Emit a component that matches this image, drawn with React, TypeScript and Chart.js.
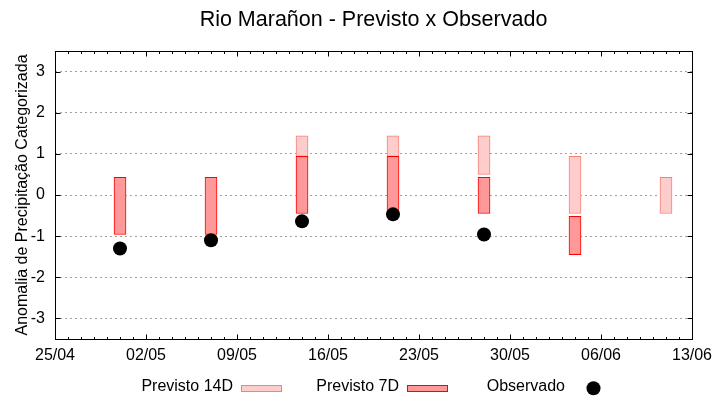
import { useEffect, useRef } from "react";
import { Chart, registerables } from "chart.js";

Chart.register(...registerables);

const chartTitle = "Rio Marañon - Previsto x Observado";
const yAxisTitle = "Anomalia de Precipitação Categorizada";

// x is "days since 25/04"
const xTickDays = [0, 7, 14, 21, 28, 35, 42, 49];
const xTickLabels = ["25/04", "02/05", "09/05", "16/05", "23/05", "30/05", "06/06", "13/06"];
const yTicks = [-3, -2, -1, 0, 1, 2, 3];

const forecastDays = [5, 12, 19, 26, 33, 40, 47];
const p14Low: (number | null)[] = [null, null, 0.94, 0.94, 0.5, -0.45, -0.45];
const p14High: (number | null)[] = [null, null, 1.44, 1.44, 1.44, 0.94, 0.43];
const p7Low: (number | null)[] = [-0.96, -0.96, -0.45, -0.45, -0.45, -1.45, null];
const p7High: (number | null)[] = [0.43, 0.43, 0.94, 0.94, 0.43, -0.52, null];

const obsDays = [5, 12, 19, 26, 33];
const obsValues = [-1.3, -1.1, -0.64, -0.47, -0.96];

const FONT = "'Liberation Sans', Arial, sans-serif";

function ranges(lo: (number | null)[], hi: (number | null)[]) {
  const out: { x: number; y: [number, number] }[] = [];
  forecastDays.forEach((d, i) => {
    const a = lo[i];
    const b = hi[i];
    if (a !== null && b !== null) out.push({ x: d, y: [a, b] });
  });
  return out;
}

const framePlugin = {
  id: "frameAndLegend",
  afterDraw(chart: any) {
    const { ctx, chartArea: a, scales } = chart;
    const x = scales.x;
    const y = scales.y;
    const L = Math.round(a.left) + 0.5;
    const R = Math.round(a.right) + 0.5;
    const T = Math.round(a.top) + 0.5;
    const B = Math.round(a.bottom) + 0.5;
    ctx.save();
    ctx.strokeStyle = "#000";
    ctx.lineWidth = 1;
    ctx.strokeRect(L, T, R - L, B - T);
    ctx.beginPath();
    for (let d = x.min; d <= x.max; d++) {
      const px = Math.round(x.getPixelForValue(d)) + 0.5;
      const len = xTickDays.includes(d) ? 5 : 2.5;
      ctx.moveTo(px, B);
      ctx.lineTo(px, B - len);
      ctx.moveTo(px, T);
      ctx.lineTo(px, T + len);
    }
    yTicks.forEach((v) => {
      const py = Math.round(y.getPixelForValue(v)) + 0.5;
      ctx.moveTo(L, py);
      ctx.lineTo(L + 5, py);
      ctx.moveTo(R, py);
      ctx.lineTo(R - 5, py);
    });
    ctx.stroke();

    // title
    ctx.fillStyle = "#000";
    ctx.font = `21.5px ${FONT}`;
    ctx.textAlign = "center";
    ctx.textBaseline = "middle";
    ctx.fillText(chartTitle, (a.left + a.right) / 2, 20);

    // legend
    ctx.font = `16px ${FONT}`;
    ctx.textAlign = "right";
    const textY = 386.5;
    const boxY = 385;
    const starts = [241, 407, 573];
    chart.data.datasets.forEach((ds: any, i: number) => {
      const sx = starts[i];
      ctx.fillStyle = "#000";
      ctx.fillText(ds.label, sx - 8, textY);
      if (ds.type === "bar") {
        ctx.fillStyle = ds.backgroundColor;
        ctx.fillRect(sx, boxY, 41, 7);
        ctx.strokeStyle = ds.borderColor;
        ctx.strokeRect(sx + 0.5, boxY + 0.5, 40, 6);
      } else {
        ctx.fillStyle = "#000";
        ctx.beginPath();
        ctx.arc(sx + 20.5, 388.3, 7, 0, Math.PI * 2);
        ctx.fill();
      }
    });
    ctx.restore();
  },
};

export default function App() {
  const ref = useRef<HTMLCanvasElement>(null);
  useEffect(() => {
    document.body.style.margin = "0";
    const chart = new Chart(ref.current!, {
      type: "bar",
      data: {
        datasets: [
          {
            type: "bar",
            label: "Previsto 14D",
            data: ranges(p14Low, p14High) as any,
            backgroundColor: "#ffcccc",
            borderColor: "#f58275",
            borderWidth: 1,
            borderSkipped: false,
            barThickness: 12,
            grouped: false,
            order: 3,
          } as any,
          {
            type: "bar",
            label: "Previsto 7D",
            data: ranges(p7Low, p7High) as any,
            backgroundColor: "#ff9999",
            borderColor: "#ff0000",
            borderWidth: 1,
            borderSkipped: false,
            barThickness: 12,
            grouped: false,
            order: 2,
          } as any,
          {
            type: "line",
            label: "Observado",
            data: obsDays.map((d, i) => ({ x: d, y: obsValues[i] })),
            showLine: false,
            pointRadius: 7,
            pointBackgroundColor: "#000",
            pointBorderWidth: 0,
            backgroundColor: "#000",
            borderColor: "#000",
            order: 1,
          } as any,
        ],
      },
      options: {
        animation: false,
        responsive: false,
        devicePixelRatio: 1,
        layout: { padding: { top: 51, right: 28, left: 0, bottom: 0 } },
        font: { family: FONT },
        plugins: {
          legend: { display: false },
          title: { display: false },
          tooltip: { enabled: false },
        },
        scales: {
          x: {
            type: "linear",
            min: 0,
            max: 49,
            offset: false,
            grid: { display: false, offset: false },
            border: { display: false },
            afterFit: (s: any) => {
              s.height = 61;
            },
            afterBuildTicks: (s: any) => {
              s.ticks = xTickDays.map((v) => ({ value: v }));
            },
            ticks: {
              color: "#000",
              font: { family: FONT, size: 16 },
              padding: -1,
              maxRotation: 0,
              autoSkip: false,
              callback: (v: any) => {
                const i = xTickDays.indexOf(Number(v));
                return i >= 0 ? xTickLabels[i] : "";
              },
            },
          } as any,
          y: {
            type: "linear",
            min: -3.5,
            max: 3.5,
            afterFit: (s: any) => {
              s.width = 55;
            },
            afterBuildTicks: (s: any) => {
              s.ticks = yTicks.map((v) => ({ value: v }));
            },
            grid: { color: "#a0a0a0", drawTicks: false, lineWidth: 1 },
            border: { display: false, dash: [2, 3] },
            ticks: {
              color: "#000",
              font: { family: FONT, size: 16 },
              padding: 10,
              callback: (v: any) => String(v),
            },
            title: {
              display: true,
              text: yAxisTitle,
              color: "#000",
              font: { family: FONT, size: 16 },
              padding: { top: 13, bottom: 0 },
            },
          } as any,
        },
      } as any,
      plugins: [framePlugin],
    });
    return () => chart.destroy();
  }, []);
  return (
    <div style={{ position: "absolute", left: 0, top: 0, width: 720, height: 400 }}>
      <canvas ref={ref} width={720} height={400} />
    </div>
  );
}
